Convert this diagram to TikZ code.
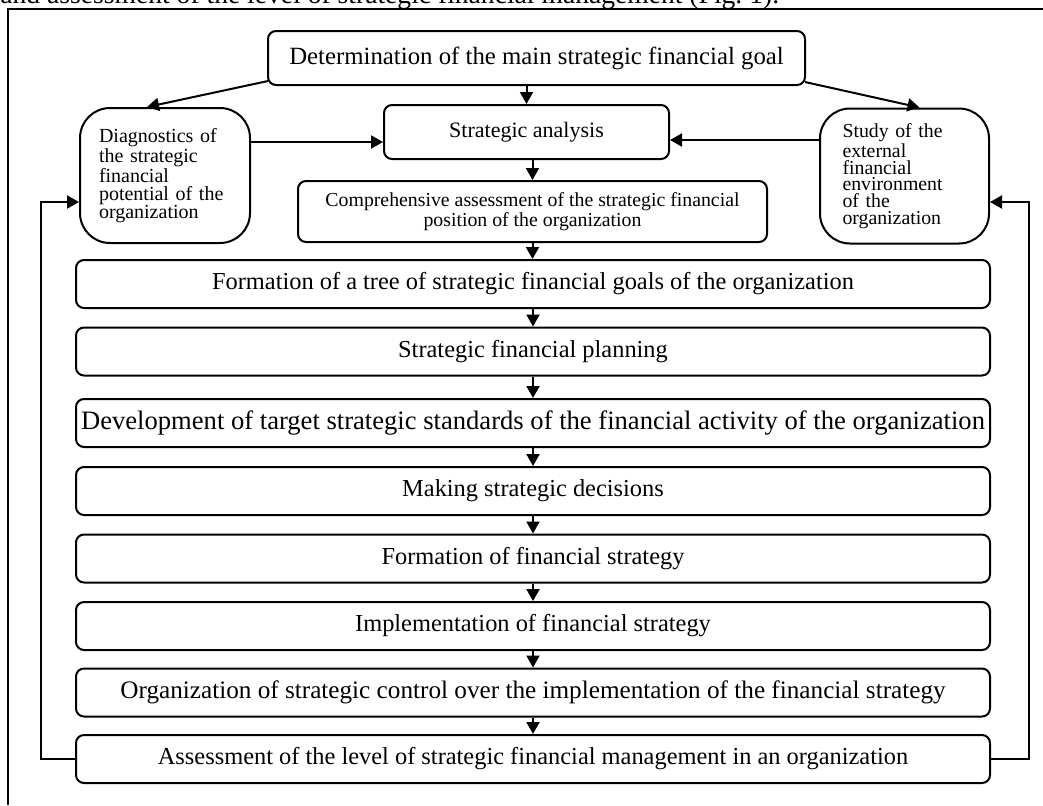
\documentclass[tikz,border=0pt]{standalone}
\usepackage{fontspec}
\setmainfont{Liberation Serif}
\usetikzlibrary{arrows.meta,calc,positioning}

\tikzset{
  box/.style={draw, line width=1pt, align=center, inner sep=2pt},
  stagebox/.style={box, rounded corners=4pt, minimum width=457pt, minimum height=24pt,
    font=\fontsize{12.2}{14}\selectfont},
  sidebox/.style={box, rounded corners=15pt, minimum width=85pt, minimum height=67.5pt,
    align=left, inner xsep=9.5pt},
  arr/.style={line width=1pt, -{Triangle[length=6pt,width=6.5pt]}},
}

\begin{document}
\begin{tikzpicture}[x=0.5pt, y=-0.5pt]
  \useasboundingbox (0,0) rectangle (1043,805);

  % Page text and frame
  \begin{scope}
    \clip (0,0) rectangle (1043,805);
    \node[anchor=base west, inner sep=0pt, font=\fontsize{13.8}{16}\selectfont] (pagetext) at (0,3)
      {and assessment of the level of strategic financial management (Fig.~1).};
    \draw[line width=0.7pt] (8,805) -- (8,9) -- (1043,9);
  \end{scope}

  % Upper part
  \node[box, rounded corners=4pt, minimum width=268.5pt, minimum height=27pt,
    font=\fontsize{12.4}{14}\selectfont] (goal) at (536.5,58)
    {Determination of the main strategic financial goal};
  \node[box, rounded corners=4pt, minimum width=142.5pt, minimum height=27pt,
    font=\fontsize{11}{13}\selectfont] (analysis) at (526.5,132) {Strategic analysis};
  \node[box, rounded corners=4pt, minimum width=234.5pt, minimum height=30.5pt,
    font=\fontsize{9.9}{8.5}\selectfont] (position) at (532.5,211.5)
    {Comprehensive assessment of the strategic financial\\position of the organization};
  \node[sidebox, text width=66pt, font=\fontsize{10}{9}\selectfont] (potential) at (165,175.5)
    {Diagnostics of\\the strategic\\financial\\potential of the\\organization};
  \node[sidebox, text width=62pt, inner xsep=11.25pt, minimum width=84.5pt,
    font=\fontsize{9.9}{8.4}\selectfont] (environment) at (904.5,176)
    {Study of the\\external\\financial\\environment\\of the\\organization};

  % Stages
  \node[stagebox] (tree) at (533,284) {Formation of a tree of strategic financial goals of the organization};
  \node[stagebox] (planning) at (533,351.5) {Strategic financial planning};
  \node[stagebox, font=\fontsize{13.3}{15}\selectfont] (standards) at (533,423)
    {Development of target strategic standards of the financial activity of the organization};
  \node[stagebox] (decisions) at (533,491) {Making strategic decisions};
  \node[stagebox] (formation) at (533,558.5) {Formation of financial strategy};
  \node[stagebox] (implementation) at (533,626) {Implementation of financial strategy};
  \node[stagebox, font=\fontsize{12.6}{14}\selectfont] (control) at (533,692.5)
    {Organization of strategic control over the implementation of the financial strategy};
  \node[stagebox] (assessment) at (533,759) {Assessment of the level of strategic financial management in an organization};

  % Arrows of the upper part
  \draw[arr] ($(goal.south west)+(1,-5)$) -- ($(potential.north)+(-18,0)$);
  \draw[arr] ($(goal.south east)+(-1,-4)$) -- ($(environment.north)+(15,0)$);
  \draw[arr] (goal.south -| analysis.north) -- (analysis.north);
  \coordinate (lft) at ($(analysis.west)+(0,10)$);
  \coordinate (rgt) at ($(analysis.east)+(0,8)$);
  \draw[arr] (lft -| potential.east) -- (lft);
  \draw[arr] (rgt -| environment.west) -- (rgt);
  \draw[arr] (position.north |- analysis.south) -- (position.north);
  \draw[arr] (position.south) -- (position.south |- tree.north);

  % Chain of stages
  \draw[arr] (tree.south) -- (planning.north);
  \draw[arr] (planning.south) -- (standards.north);
  \draw[arr] (standards.south) -- (decisions.north);
  \draw[arr] (decisions.south) -- (formation.north);
  \draw[arr] (formation.south) -- (implementation.north);
  \draw[arr] (implementation.south) -- (control.north);
  \draw[arr] (control.south) -- (assessment.north);

  % Feedback
  \draw[arr] (assessment.west) -- ++(-34,0) |- ($(potential.west)+(0,26.5)$);
  \draw[arr] (assessment.east) -- ++(38,0) |- ($(environment.east)+(0,26)$);
\end{tikzpicture}
\end{document}
